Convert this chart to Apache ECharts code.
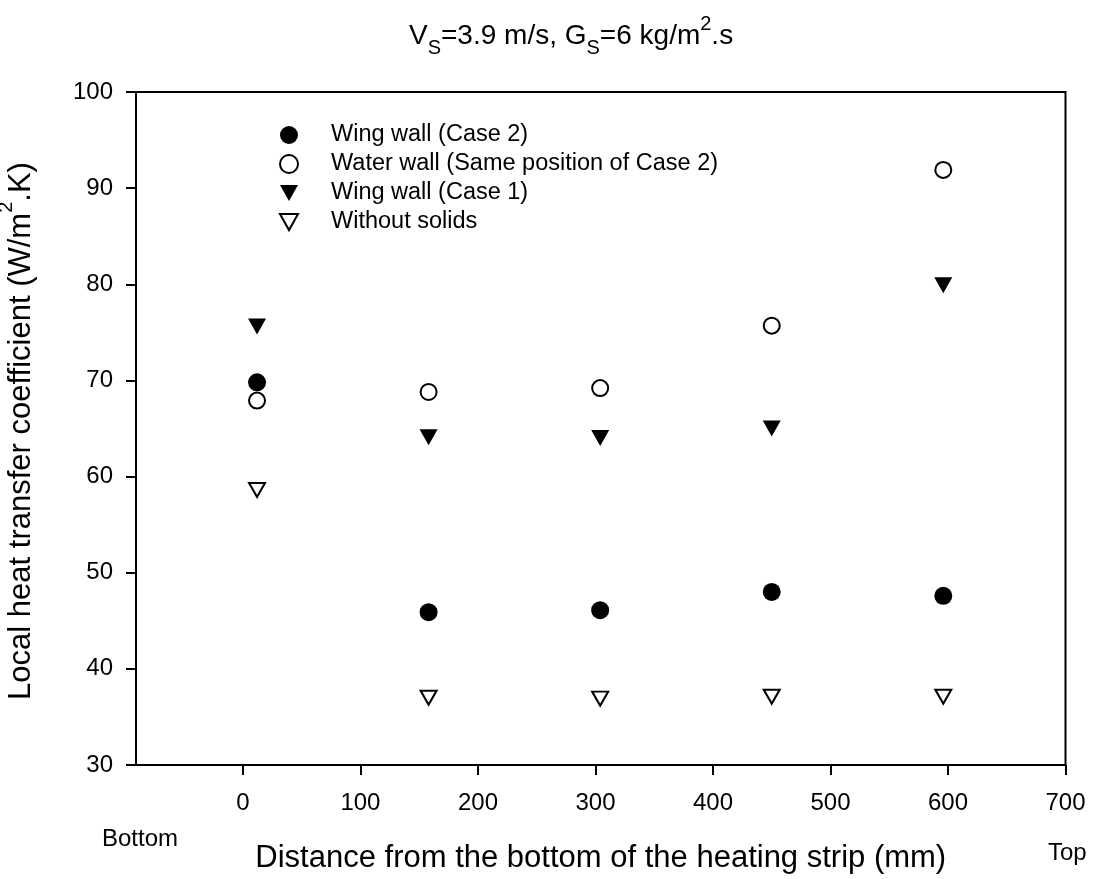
<!DOCTYPE html>
<html>
<head>
<meta charset="utf-8">
<script src="https://cdn.jsdelivr.net/npm/echarts@6/dist/echarts.min.js"></script>
<style>
  html, body { margin: 0; padding: 0; background: #fff; }
  #chart { width: 1096px; height: 879px; }
</style>
</head>
<body>
<div id="chart"></div>
<script>
// Measurement positions along the heating strip (mm)
const positions = [12, 158, 304, 450, 596];

// Local heat transfer coefficient (W/m2.K) per series
const wingWallCase2 = [69.8, 45.9, 46.1, 48.0, 47.6];
const waterWallCase2 = [67.9, 68.8, 69.2, 75.7, 91.9];
const wingWallCase1 = [75.6, 64.1, 64.0, 65.0, 79.9];
const withoutSolids = [58.6, 37.0, 36.9, 37.1, 37.1];

const seriesNames = [
  'Wing wall (Case 2)',
  'Water wall (Same position of Case 2)',
  'Wing wall (Case 1)',
  'Without solids'
];

const xTicks = [0, 100, 200, 300, 400, 500, 600, 700];

const FONT = 'Liberation Sans, Arial, sans-serif';
const DOWN_TRI = 'path://M0,0L10,0L5,9Z';

function pairs(ys) {
  return positions.map((x, i) => [x, ys[i]]);
}

const chart = echarts.init(document.getElementById('chart'));

const option = {
  backgroundColor: '#fff',
  animation: false,
  textStyle: { fontFamily: FONT, color: '#000' },
  legend: {
    orient: 'vertical',
    left: 274,
    top: 118,
    itemWidth: 18,
    itemHeight: 18,
    itemGap: 5,
    textStyle: { fontFamily: FONT, fontSize: 23.5, color: '#000', padding: [0, 0, 0, 28] },
    data: seriesNames
  },
  grid: {
    left: 136,
    right: 30.5,
    top: 92,
    bottom: 111,
    show: true,
    borderColor: '#000',
    borderWidth: 2,
    containLabel: false
  },
  xAxis: {
    type: 'value',
    min: -91,
    max: 700,
    splitLine: { show: false },
    axisLine: { show: true, onZero: false, lineStyle: { color: '#000', width: 2 } },
    axisTick: { show: true, length: 10, lineStyle: { color: '#000', width: 2 }, customValues: xTicks },
    axisLabel: { fontFamily: FONT, fontSize: 24, color: '#000', margin: 26, customValues: xTicks },
    name: 'Distance from the bottom of the heating strip (mm)',
    nameLocation: 'middle',
    nameGap: 78,
    nameTextStyle: { fontFamily: FONT, fontSize: 31, color: '#000' }
  },
  yAxis: {
    type: 'value',
    min: 30,
    max: 100,
    interval: 10,
    splitLine: { show: false },
    axisLine: { show: true, onZero: false, lineStyle: { color: '#000', width: 2 } },
    axisTick: { show: true, length: 10, lineStyle: { color: '#000', width: 2 } },
    axisLabel: { fontFamily: FONT, fontSize: 24, color: '#000', margin: 23 }
  },
  graphic: [
    {
      // chart heading with subscripts and superscript
      type: 'text',
      x: 409,
      y: 36,
      style: {
        text: '{t|V}{s|S}{t|=3.9 m/s, G}{s|S}{t|=6 kg/m}{p|2}{t|.s}',
        align: 'left',
        verticalAlign: 'middle',
        rich: {
          t: { fontFamily: FONT, fontSize: 28, fill: '#000', lineHeight: 44, verticalAlign: 'middle' },
          s: { fontFamily: FONT, fontSize: 20, fill: '#000', lineHeight: 16, verticalAlign: 'bottom' },
          p: { fontFamily: FONT, fontSize: 20, fill: '#000', lineHeight: 25, verticalAlign: 'top' }
        }
      }
    },
    {
      // vertical axis title
      type: 'text',
      x: 21,
      y: 431,
      rotation: Math.PI / 2,
      style: {
        text: '{t|Local heat transfer coefficient (W/m}{p|2}{t|.K)}',
        align: 'center',
        verticalAlign: 'middle',
        rich: {
          t: { fontFamily: FONT, fontSize: 31, fill: '#000', lineHeight: 50, verticalAlign: 'middle' },
          p: { fontFamily: FONT, fontSize: 20, fill: '#000', lineHeight: 28, verticalAlign: 'top' }
        }
      }
    },
    {
      type: 'text',
      x: 102,
      y: 839,
      style: { text: 'Bottom', fontFamily: FONT, fontSize: 24, fill: '#000', align: 'left', verticalAlign: 'middle' }
    },
    {
      type: 'text',
      x: 1048,
      y: 853,
      style: { text: 'Top', fontFamily: FONT, fontSize: 24, fill: '#000', align: 'left', verticalAlign: 'middle' }
    }
  ],
  series: [
    {
      name: seriesNames[0],
      type: 'scatter',
      symbol: 'circle',
      symbolSize: 18,
      itemStyle: { color: '#000', opacity: 1 },
      data: pairs(wingWallCase2)
    },
    {
      name: seriesNames[1],
      type: 'scatter',
      symbol: 'circle',
      symbolSize: 16,
      itemStyle: { color: '#fff', borderColor: '#000', borderWidth: 2, opacity: 1 },
      data: pairs(waterWallCase2)
    },
    {
      name: seriesNames[2],
      type: 'scatter',
      symbol: DOWN_TRI,
      symbolSize: [18, 16],
      itemStyle: { color: '#000', opacity: 1 },
      data: pairs(wingWallCase1)
    },
    {
      name: seriesNames[3],
      type: 'scatter',
      symbol: DOWN_TRI,
      symbolSize: [16, 14],
      itemStyle: { color: '#fff', borderColor: '#000', borderWidth: 2, opacity: 1 },
      data: pairs(withoutSolids)
    }
  ]
};

chart.setOption(option);
</script>
</body>
</html>
